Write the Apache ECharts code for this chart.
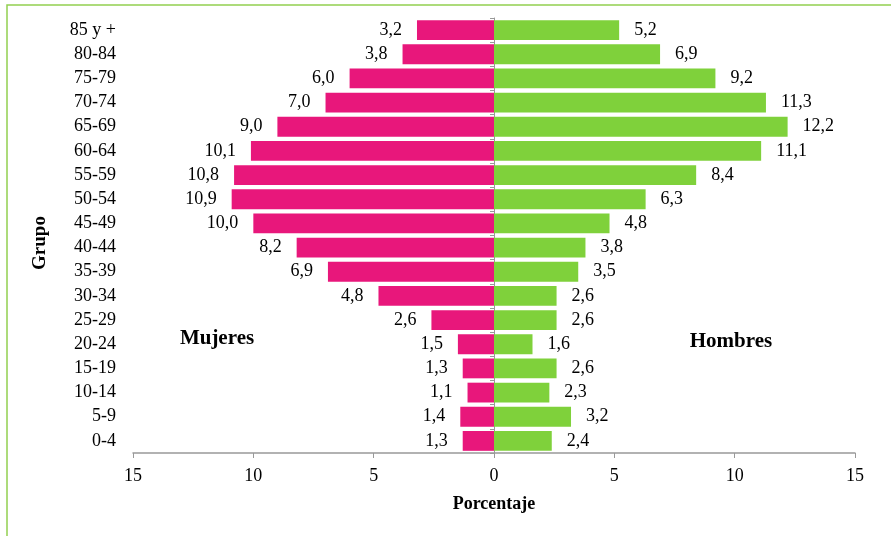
<!DOCTYPE html>
<html>
<head>
<meta charset="utf-8">
<script src="https://cdn.jsdelivr.net/npm/echarts@6/dist/echarts.min.js"></script>
<style>html,body{margin:0;padding:0;background:#fff}#c{width:891px;height:536px}</style>
</head>
<body>
<div id="c"></div>
<script>
const categories = ['0-4','5-9','10-14','15-19','20-24','25-29','30-34','35-39','40-44','45-49','50-54','55-59','60-64','65-69','70-74','75-79','80-84','85 y +'];
const mujeres = [1.3,1.4,1.1,1.3,1.5,2.6,4.8,6.9,8.2,10.0,10.9,10.8,10.1,9.0,7.0,6.0,3.8,3.2];
const hombres = [2.4,3.2,2.3,2.6,1.6,2.6,2.6,3.5,3.8,4.8,6.3,8.4,11.1,12.2,11.3,9.2,6.9,5.2];
const xTicks = [-15,-10,-5,0,5,10,15];

const FONT = '"Liberation Serif","Times New Roman",serif';
const fmt = v => Math.abs(v).toFixed(1).replace('.', ',');

const chart = echarts.init(document.getElementById('c'));
chart.setOption({
  animation: false,
  grid: {left: 133, right: 36, top: 18, bottom: 83, containLabel: false},
  xAxis: {
    type: 'value', min: xTicks[0], max: xTicks[xTicks.length-1], interval: 5,
    axisLine: {show: true, lineStyle: {color: '#999', width: 1.5}},
    axisTick: {show: true, length: 5, lineStyle: {color: '#999'}},
    splitLine: {show: false},
    axisLabel: {margin: 14, color: '#000', fontFamily: FONT, fontSize: 18, formatter: v => String(Math.abs(v))},
    name: 'Porcentaje', nameLocation: 'middle', nameGap: 42,
    nameTextStyle: {fontFamily: FONT, fontWeight: 'bold', fontSize: 18, color: '#000'}
  },
  yAxis: [{
    type: 'category', data: categories, position: 'left',
    axisLine: {show: false, onZero: false}, axisTick: {show: false},
    axisLabel: {margin: 17, color: '#000', fontFamily: FONT, fontSize: 18}
  }, {
    type: 'category', data: categories, position: 'left',
    axisLine: {show: true, onZero: true, lineStyle: {color: '#999'}},
    axisTick: {show: true, length: 4, lineStyle: {color: '#999'}},
    axisLabel: {show: false}
  }],
  series: [{
    name: 'Mujeres', type: 'bar', stack: 'p', yAxisIndex: 0,
    data: mujeres.map(v => -v), barCategoryGap: '18%',
    itemStyle: {color: '#E8177B'},
    label: {show: true, position: 'left', distance: 15, color: '#000', fontFamily: FONT, fontSize: 18, formatter: p => fmt(p.value)}
  }, {
    name: 'Hombres', type: 'bar', stack: 'p', yAxisIndex: 0,
    data: hombres, barCategoryGap: '18%',
    itemStyle: {color: '#7FD13B'},
    label: {show: true, position: 'right', distance: 15, color: '#000', fontFamily: FONT, fontSize: 18, formatter: p => fmt(p.value)}
  }],
  graphic: [
    {type: 'rect', shape: {x: 7, y: 5, width: 900, height: 600}, style: {fill: 'none', stroke: '#92D050', lineWidth: 1.5}, z: -1},
    {type: 'text', x: 217, y: 339, style: {text: 'Mujeres', font: 'bold 21px ' + FONT, fill: '#000', textAlign: 'center', textVerticalAlign: 'middle'}},
    {type: 'text', x: 731, y: 342, style: {text: 'Hombres', font: 'bold 21px ' + FONT, fill: '#000', textAlign: 'center', textVerticalAlign: 'middle'}},
    {type: 'text', x: 40, y: 243, rotation: Math.PI/2, style: {text: 'Grupo', font: 'bold 19px ' + FONT, fill: '#000', textAlign: 'center', textVerticalAlign: 'middle'}}
  ]
});
</script>
</body>
</html>
